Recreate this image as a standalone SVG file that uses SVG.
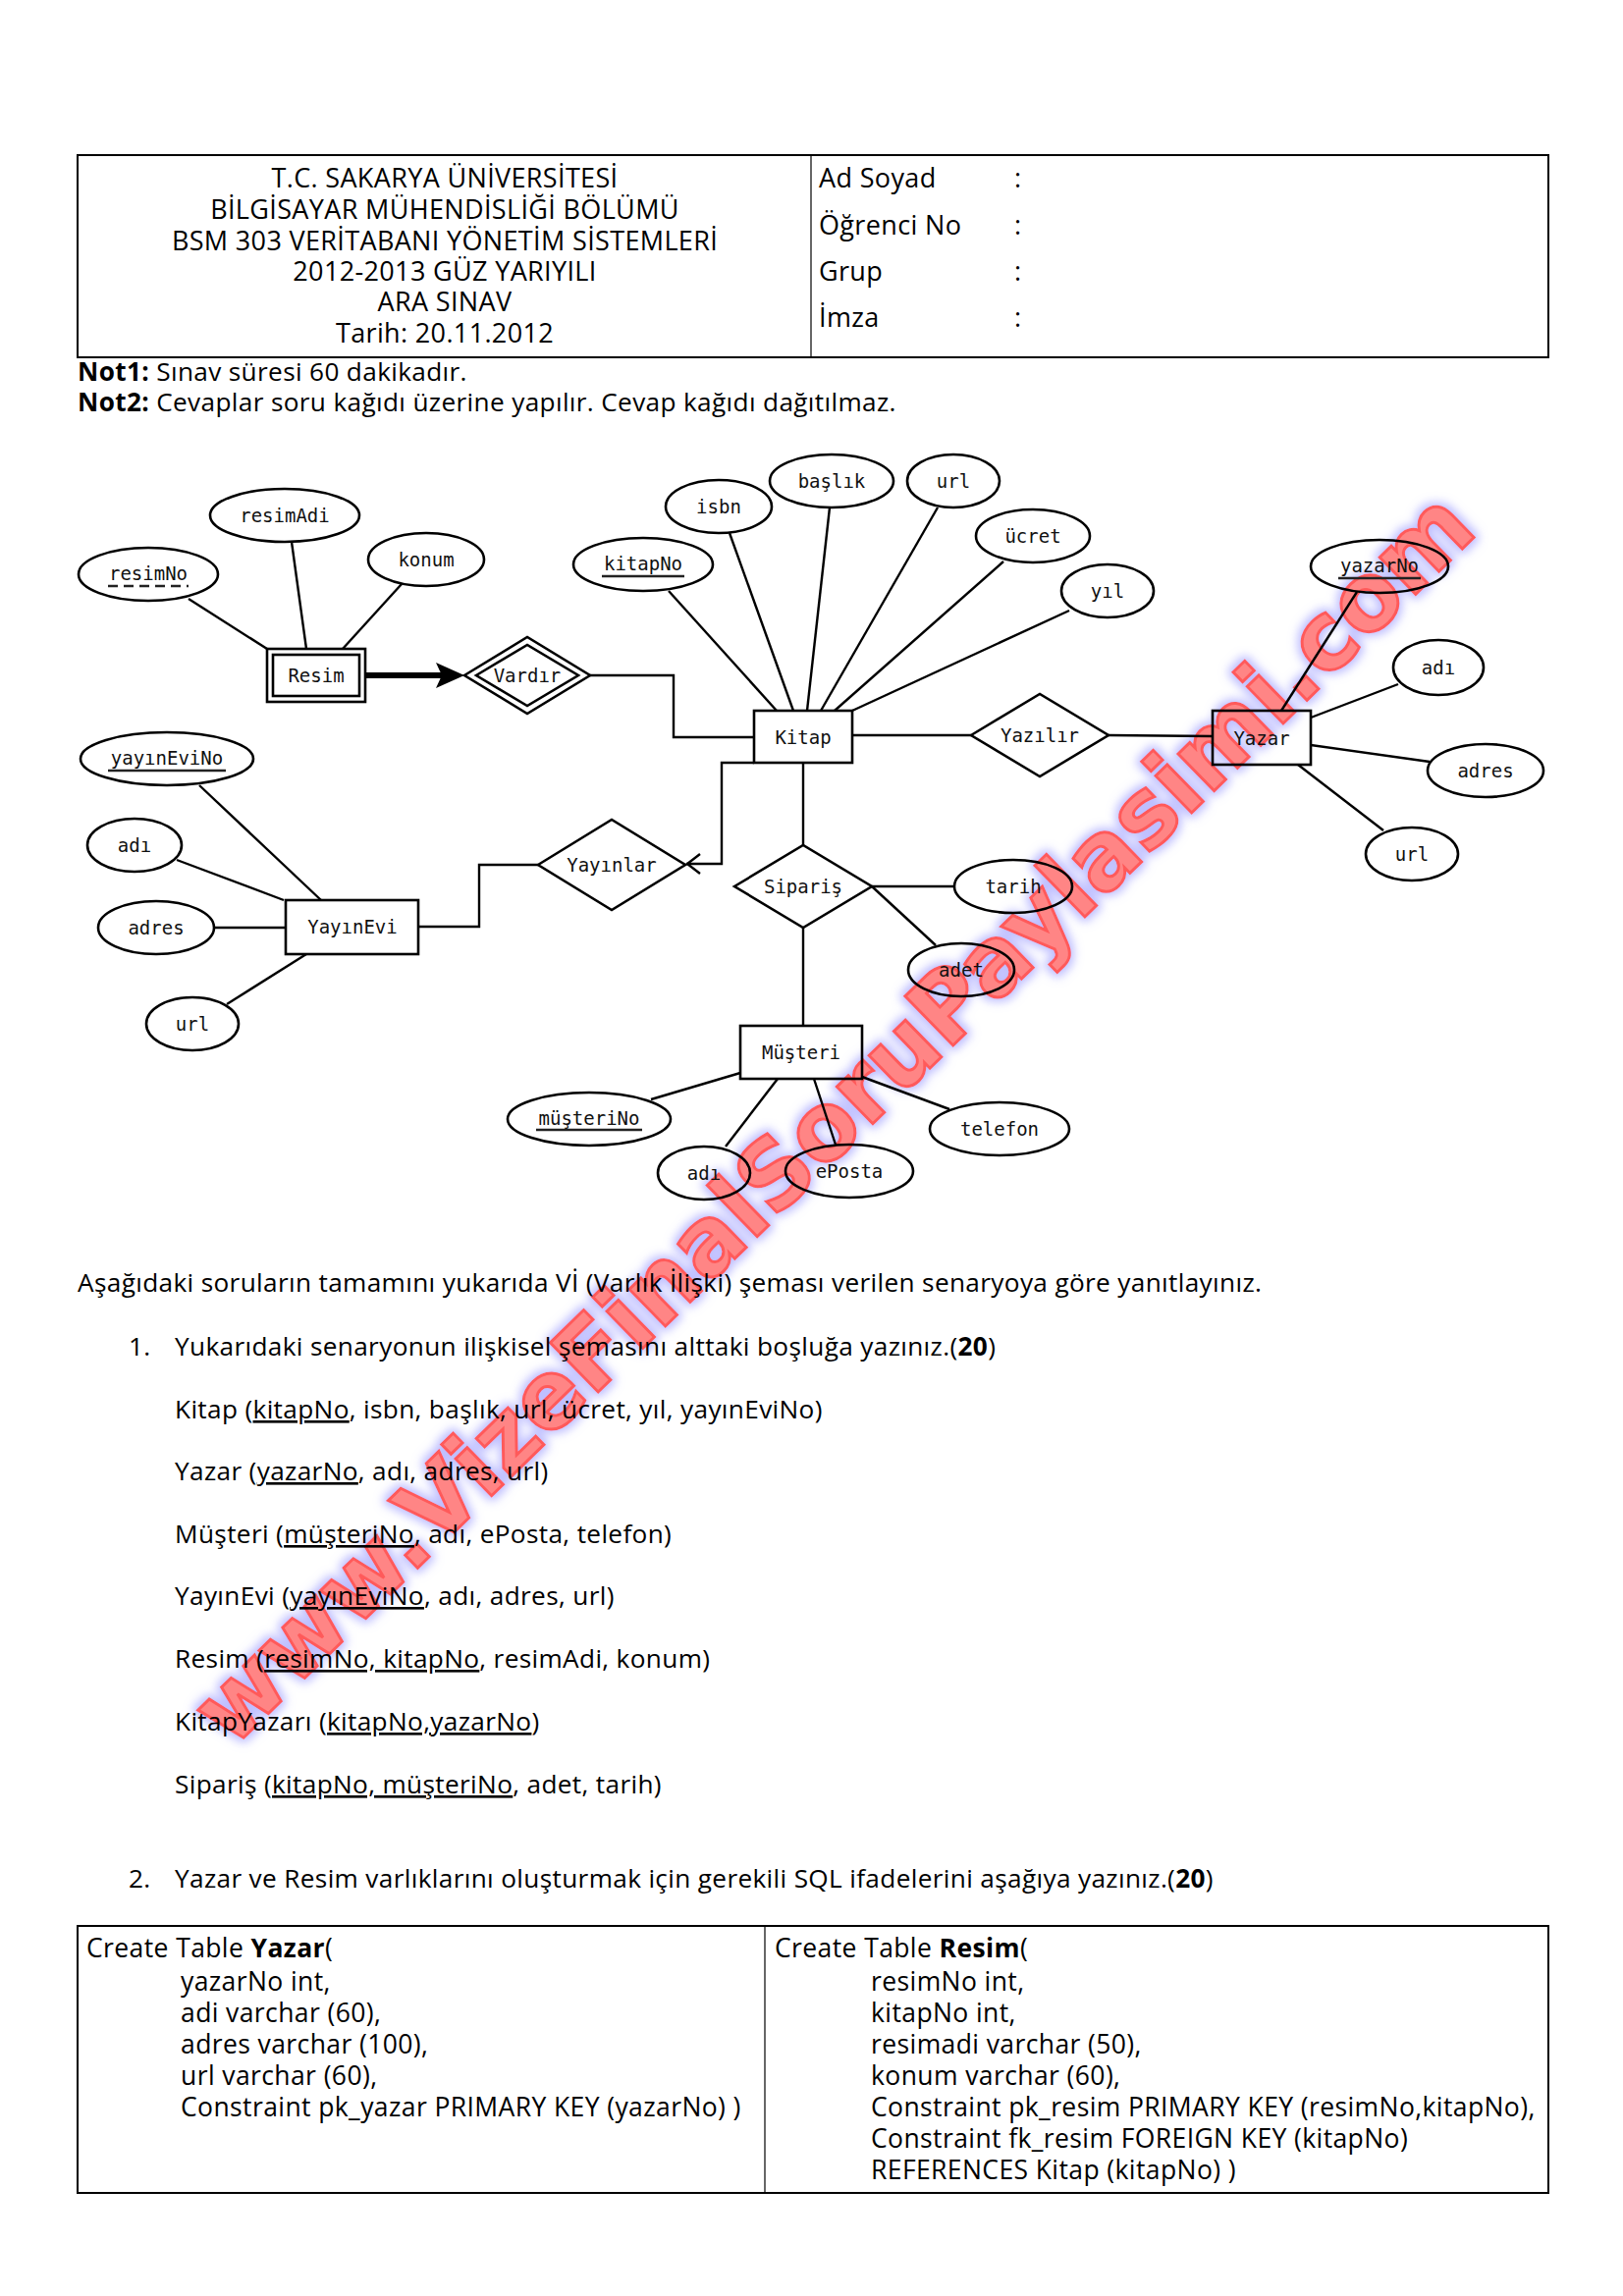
<svg xmlns="http://www.w3.org/2000/svg" width="1653" height="2339" viewBox="0 0 1653 2339">
<style>
.doc{font-family:"Open Sans","Noto Sans","Liberation Sans",sans-serif;font-size:26.2px;letter-spacing:0.35px;fill:#000}
.hdr{font-family:"Open Sans","Noto Sans","Liberation Sans",sans-serif;font-size:27px;letter-spacing:0.35px;fill:#000}
.sqlt{font-family:"Open Sans","Noto Sans","Liberation Sans",sans-serif;font-size:26.5px;letter-spacing:0.4px;fill:#000}
.tbl{fill:none;stroke:#000;stroke-width:2}
.thin{fill:none;stroke:#000;stroke-width:1.2}
.shape{fill:none;stroke:#000;stroke-width:2.6}
.lbl{font-family:"DejaVu Sans Mono",monospace;font-size:19px;fill:#111;text-anchor:middle;dominant-baseline:central}
.conn line,.conn polyline{fill:none;stroke:#000;stroke-width:2.4}
.ul{stroke:#222;stroke-width:2.6}
.b{font-weight:bold}
.u{text-decoration:underline}
</style>
<defs>
<filter id="glow" x="-5%" y="-5%" width="110%" height="110%">
<feMorphology in="SourceAlpha" operator="dilate" radius="3" result="d"/>
<feGaussianBlur in="d" stdDeviation="5" result="bl"/>
<feFlood flood-color="#a9a9ff" flood-opacity="0.75"/>
<feComposite in2="bl" operator="in" result="g"/>
<feMerge><feMergeNode in="g"/><feMergeNode in="SourceGraphic"/></feMerge>
</filter>
</defs>
<rect width="1653" height="2339" fill="#fff"/>

<!-- watermark -->
<g id="watermark" filter="url(#glow)">
<text x="236" y="1782" transform="rotate(-44.3 236 1782)" font-family="DejaVu Sans,sans-serif" font-weight="bold" font-size="96" fill="#ff8585" stroke="#ff5a5a" stroke-width="3" textLength="1775" lengthAdjust="spacingAndGlyphs">www.VizeFinalSoruPaylasimi.com</text>
</g>

<!-- header table -->
<g id="header">
<rect class="tbl" x="79" y="158" width="1498" height="206"/>
<line class="thin" x1="826" y1="158" x2="826" y2="364"/>
<g class="hdr" text-anchor="middle">
<text x="453" y="191">T.C. SAKARYA ÜNİVERSİTESİ</text>
<text x="453" y="223">BİLGİSAYAR MÜHENDİSLİĞİ BÖLÜMÜ</text>
<text x="453" y="255">BSM 303 VERİTABANI YÖNETİM SİSTEMLERİ</text>
<text x="453" y="286">2012-2013 GÜZ YARIYILI</text>
<text x="453" y="317">ARA SINAV</text>
<text x="453" y="349">Tarih: 20.11.2012</text>
</g>
<g class="hdr">
<text x="834" y="191">Ad Soyad</text><text x="1033" y="191">:</text>
<text x="834" y="239">Öğrenci No</text><text x="1033" y="239">:</text>
<text x="834" y="286">Grup</text><text x="1033" y="286">:</text>
<text x="834" y="333">İmza</text><text x="1033" y="333">:</text>
</g>
<text class="doc" x="79" y="388"><tspan class="b">Not1:</tspan> Sınav süresi 60 dakikadır.</text>
<text class="doc" x="79" y="419"><tspan class="b">Not2:</tspan> Cevaplar soru kağıdı üzerine yapılır. Cevap kağıdı dağıtılmaz.</text>
</g>

<!-- connectors -->
<g id="connectors" class="conn">
<line x1="192" y1="610" x2="272" y2="661"/>
<line x1="297" y1="552" x2="312" y2="661"/>
<line x1="409" y1="595" x2="349" y2="661"/>
<line x1="372" y1="688" x2="450" y2="688" style="stroke-width:6"/>
<path d="M444,675 L473,688 L444,701 L450,688 Z" fill="#000"/>
<polyline points="601,688 686,688 686,751 768,751"/>
<line x1="681" y1="602" x2="791" y2="724"/>
<line x1="743" y1="543" x2="808" y2="724"/>
<line x1="845" y1="517" x2="822" y2="724"/>
<line x1="955" y1="517" x2="836" y2="724"/>
<line x1="1022" y1="572" x2="850" y2="724"/>
<line x1="1089" y1="622" x2="868" y2="724"/>
<line x1="868" y1="749" x2="989" y2="749"/>
<line x1="1129" y1="749" x2="1235" y2="750"/>
<line x1="1382" y1="603" x2="1305" y2="724"/>
<line x1="1424" y1="697" x2="1335" y2="731"/>
<line x1="1456" y1="776" x2="1335" y2="759"/>
<line x1="1409" y1="846" x2="1322" y2="779"/>
<line x1="818" y1="777" x2="818" y2="861"/>
<line x1="818" y1="945" x2="818" y2="1045"/>
<line x1="888" y1="903" x2="972" y2="903"/>
<line x1="888" y1="903" x2="953" y2="963"/>
<line x1="663" y1="1120" x2="754" y2="1093"/>
<line x1="739" y1="1168" x2="792" y2="1099"/>
<line x1="851" y1="1166" x2="829" y2="1099"/>
<line x1="967" y1="1130" x2="878" y2="1097"/>
<polyline points="768,777 735,777 735,880 699,880"/>
<polyline points="713,870 700,880 713,890"/>
<polyline points="548,881 488,881 488,944 426,944"/>
<line x1="203" y1="800" x2="327" y2="917"/>
<line x1="180" y1="876" x2="289" y2="917"/>
<line x1="218" y1="945" x2="291" y2="945"/>
<line x1="231" y1="1023" x2="312" y2="972"/>
</g>

<!-- entities -->
<g id="Resim"><rect class="shape" x="272" y="661" width="100" height="54"/><rect class="shape" x="278" y="667" width="88" height="42"/><text class="lbl" x="322" y="688">Resim</text></g>
<g id="Kitap"><rect class="shape" x="768" y="724" width="100" height="53"/><text class="lbl" x="818" y="751">Kitap</text></g>
<g id="Yazar"><rect class="shape" x="1235" y="724" width="100" height="55"/><text class="lbl" x="1285" y="752">Yazar</text></g>
<g id="YayinEvi"><rect class="shape" x="291" y="917" width="135" height="55"/><text class="lbl" x="359" y="944">YayınEvi</text></g>
<g id="Musteri"><rect class="shape" x="754" y="1045" width="124" height="54"/><text class="lbl" x="816" y="1072">Müşteri</text></g>

<!-- relationships -->
<g id="Vardir"><polygon class="shape" points="473,688 537,649 601,688 537,727"/><polygon class="shape" points="485,688 537,657 589,688 537,719"/><text class="lbl" x="537" y="688">Vardır</text></g>
<g id="Yazilir"><polygon class="shape" points="989,749 1059,707 1129,749 1059,791"/><text class="lbl" x="1059" y="749">Yazılır</text></g>
<g id="Siparis"><polygon class="shape" points="748,903 818,861 888,903 818,945"/><text class="lbl" x="818" y="903">Sipariş</text></g>
<g id="Yayinlar"><polygon class="shape" points="548,881 623,835 698,881 623,927"/><text class="lbl" x="623" y="881">Yayınlar</text></g>

<!-- attributes -->
<g id="attr-resimNo"><ellipse class="shape" cx="151" cy="585" rx="71" ry="27"/><text class="lbl" x="151" y="584">resimNo</text><line class="ul" x1="110" y1="597" x2="192" y2="597" stroke-dasharray="10,6"/></g>
<g id="attr-resimAdi"><ellipse class="shape" cx="290" cy="525" rx="76" ry="27"/><text class="lbl" x="290" y="525">resimAdi</text></g>
<g id="attr-konum"><ellipse class="shape" cx="434" cy="570" rx="59" ry="27"/><text class="lbl" x="434" y="570">konum</text></g>
<g id="attr-kitapNo"><ellipse class="shape" cx="655" cy="575" rx="71" ry="27"/><text class="lbl" x="655" y="574">kitapNo</text><line class="ul" x1="613" y1="587" x2="697" y2="587"/></g>
<g id="attr-isbn"><ellipse class="shape" cx="732" cy="516" rx="54" ry="27"/><text class="lbl" x="732" y="516">isbn</text></g>
<g id="attr-baslik"><ellipse class="shape" cx="847" cy="490" rx="63" ry="27"/><text class="lbl" x="847" y="490">başlık</text></g>
<g id="attr-url-kitap"><ellipse class="shape" cx="971" cy="490" rx="47" ry="27"/><text class="lbl" x="971" y="490">url</text></g>
<g id="attr-ucret"><ellipse class="shape" cx="1052" cy="546" rx="58" ry="27"/><text class="lbl" x="1052" y="546">ücret</text></g>
<g id="attr-yil"><ellipse class="shape" cx="1128" cy="602" rx="47" ry="27"/><text class="lbl" x="1128" y="602">yıl</text></g>
<g id="attr-yazarNo"><ellipse class="shape" cx="1405" cy="577" rx="70" ry="27"/><text class="lbl" x="1405" y="576">yazarNo</text><line class="ul" x1="1363" y1="589" x2="1447" y2="589"/></g>
<g id="attr-adi-yazar"><ellipse class="shape" cx="1465" cy="680" rx="46" ry="28"/><text class="lbl" x="1465" y="680">adı</text></g>
<g id="attr-adres-yazar"><ellipse class="shape" cx="1513" cy="785" rx="59" ry="27"/><text class="lbl" x="1513" y="785">adres</text></g>
<g id="attr-url-yazar"><ellipse class="shape" cx="1438" cy="870" rx="47" ry="27"/><text class="lbl" x="1438" y="870">url</text></g>
<g id="attr-yayinEviNo"><ellipse class="shape" cx="170" cy="773" rx="88" ry="27"/><text class="lbl" x="170" y="772">yayınEviNo</text><line class="ul" x1="110" y1="785" x2="230" y2="785"/></g>
<g id="attr-adi-yayinevi"><ellipse class="shape" cx="137" cy="861" rx="48" ry="27"/><text class="lbl" x="137" y="861">adı</text></g>
<g id="attr-adres-yayinevi"><ellipse class="shape" cx="159" cy="945" rx="59" ry="27"/><text class="lbl" x="159" y="945">adres</text></g>
<g id="attr-url-yayinevi"><ellipse class="shape" cx="196" cy="1043" rx="47" ry="27"/><text class="lbl" x="196" y="1043">url</text></g>
<g id="attr-tarih"><ellipse class="shape" cx="1032" cy="903" rx="60" ry="27"/><text class="lbl" x="1032" y="903">tarih</text></g>
<g id="attr-adet"><ellipse class="shape" cx="979" cy="988" rx="54" ry="27"/><text class="lbl" x="979" y="988">adet</text></g>
<g id="attr-musteriNo"><ellipse class="shape" cx="600" cy="1140" rx="83" ry="27"/><text class="lbl" x="600" y="1139">müşteriNo</text><line class="ul" x1="546" y1="1151" x2="654" y2="1151"/></g>
<g id="attr-adi-musteri"><ellipse class="shape" cx="717" cy="1195" rx="47" ry="27"/><text class="lbl" x="717" y="1195">adı</text></g>
<g id="attr-ePosta"><ellipse class="shape" cx="865" cy="1193" rx="65" ry="27"/><text class="lbl" x="865" y="1193">ePosta</text></g>
<g id="attr-telefon"><ellipse class="shape" cx="1018" cy="1150" rx="71" ry="27"/><text class="lbl" x="1018" y="1150">telefon</text></g>

<!-- questions -->
<g id="questions" class="doc">
<text x="79" y="1316">Aşağıdaki soruların tamamını yukarıda Vİ (Varlık İlişki) şeması verilen senaryoya göre yanıtlayınız.</text>
<text x="131" y="1381">1.</text>
<text x="178" y="1381">Yukarıdaki senaryonun ilişkisel şemasını alttaki boşluğa yazınız.(<tspan class="b">20</tspan>)</text>
<text x="178" y="1445">Kitap (<tspan class="u">kitapNo</tspan>, isbn, başlık, url, ücret, yıl, yayınEviNo)</text>
<text x="178" y="1508">Yazar (<tspan class="u">yazarNo</tspan>, adı, adres, url)</text>
<text x="178" y="1572">Müşteri (<tspan class="u">müşteriNo</tspan>, adı, ePosta, telefon)</text>
<text x="178" y="1635">YayınEvi (<tspan class="u">yayınEviNo</tspan>, adı, adres, url)</text>
<text x="178" y="1699">Resim (<tspan class="u">resimNo, kitapNo</tspan>, resimAdi, konum)</text>
<text x="178" y="1763">KitapYazarı (<tspan class="u">kitapNo,yazarNo</tspan>)</text>
<text x="178" y="1827">Sipariş (<tspan class="u">kitapNo, müşteriNo</tspan>, adet, tarih)</text>
<text x="131" y="1923">2.</text>
<text x="178" y="1923">Yazar ve Resim varlıklarını oluşturmak için gerekili SQL ifadelerini aşağıya yazınız.(<tspan class="b">20</tspan>)</text>
</g>

<!-- SQL table -->
<g id="sql">
<rect class="tbl" x="79" y="1962" width="1498" height="272"/>
<line class="thin" x1="779" y1="1962" x2="779" y2="2234"/>
<g class="sqlt">
<text x="88" y="1994">Create Table <tspan class="b">Yazar</tspan>(</text>
<text x="184" y="2028">yazarNo int,</text>
<text x="184" y="2060">adi varchar (60),</text>
<text x="184" y="2092">adres varchar (100),</text>
<text x="184" y="2124">url varchar (60),</text>
<text x="184" y="2156">Constraint pk_yazar PRIMARY KEY (yazarNo) )</text>
<text x="789" y="1994">Create Table <tspan class="b">Resim</tspan>(</text>
<text x="887" y="2028">resimNo int,</text>
<text x="887" y="2060">kitapNo int,</text>
<text x="887" y="2092">resimadi varchar (50),</text>
<text x="887" y="2124">konum varchar (60),</text>
<text x="887" y="2156">Constraint pk_resim PRIMARY KEY (resimNo,kitapNo),</text>
<text x="887" y="2188">Constraint fk_resim FOREIGN KEY (kitapNo)</text>
<text x="887" y="2220">REFERENCES Kitap (kitapNo) )</text>
</g>
</g>
</svg>
